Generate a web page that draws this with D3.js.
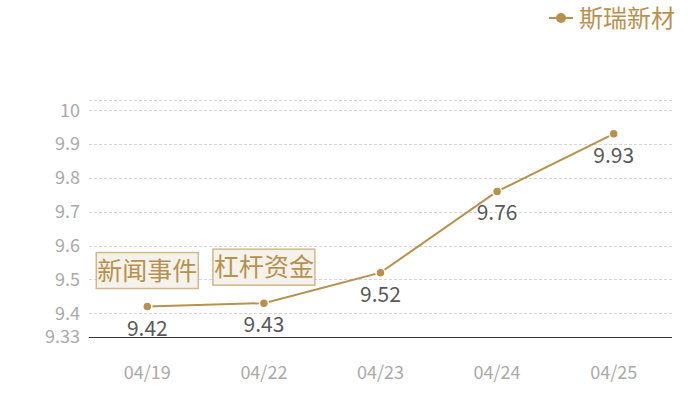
<!DOCTYPE html>
<html>
<head>
<meta charset="utf-8">
<script src="https://cdn.jsdelivr.net/npm/d3@7"></script>
<style>
  html, body { margin: 0; padding: 0; background: #fff; }
  svg { display: block; font-family: "Noto Sans CJK SC", "Noto Sans", sans-serif; }
</style>
</head>
<body>
<svg id="chart" width="700" height="400"></svg>
<script>
// data
const dates = ["04/19", "04/22", "04/23", "04/24", "04/25"];
const prices = [9.42, 9.43, 9.52, 9.76, 9.93];
const seriesName = "斯瑞新材";
const yTicks = [9.33, 9.4, 9.5, 9.6, 9.7, 9.8, 9.9, 10];
const yMin = 9.33, yMax = 10.03;
const notes = [{ date: "04/19", text: "新闻事件" }, { date: "04/22", text: "杠杆资金" }];

const gold = "#b8914f";
const svg = d3.select("#chart");
const margin = { left: 89, right: 28, top: 100, bottom: 63 };
const width = 700, height = 400;

const x = d3.scalePoint().domain(dates)
  .range([margin.left, width - margin.right]).padding(0.5);
const y = d3.scaleLinear().domain([yMin, yMax])
  .range([height - margin.bottom, margin.top]);

// grid
const gridVals = yTicks.filter(v => v > yMin).concat([yMax]);
svg.append("g").selectAll("line").data(gridVals).join("line")
  .attr("x1", margin.left).attr("x2", width - margin.right)
  .attr("y1", d => Math.round(y(d)) + 0.5).attr("y2", d => Math.round(y(d)) + 0.5)
  .attr("stroke", "#d6d6d6").attr("stroke-dasharray", "3,2").attr("stroke-width", 1);

// y labels
svg.append("g").selectAll("text").data(yTicks).join("text")
  .attr("x", 80).attr("y", d => y(d)).attr("dy", "0.36em")
  .attr("text-anchor", "end").attr("fill", "#aaa").attr("font-size", 18)
  .text(d => d);

// x axis
svg.append("line")
  .attr("x1", margin.left).attr("x2", width - margin.right)
  .attr("y1", Math.round(y(yMin)) + 0.5).attr("y2", Math.round(y(yMin)) + 0.5)
  .attr("stroke", "#333").attr("stroke-width", 1);
svg.append("g").selectAll("text").data(dates).join("text")
  .attr("x", d => x(d)).attr("y", 379)
  .attr("text-anchor", "middle").attr("fill", "#aaa").attr("font-size", 18)
  .text(d => d);

// line
const pts = dates.map((d, i) => ({ date: d, v: prices[i] }));
svg.append("path").datum(pts)
  .attr("fill", "none").attr("stroke", gold).attr("stroke-width", 2)
  .attr("d", d3.line().x(d => x(d.date)).y(d => y(d.v)));
svg.append("g").selectAll("circle").data(pts).join("circle")
  .attr("cx", d => x(d.date)).attr("cy", d => y(d.v)).attr("r", 4.5)
  .attr("fill", gold).attr("stroke", "#fff").attr("stroke-width", 1.5);
svg.append("g").selectAll("text").data(pts).join("text")
  .attr("x", d => x(d.date)).attr("y", d => y(d.v) + 29)
  .attr("text-anchor", "middle").attr("fill", "#595959").attr("font-size", 21)
  .text(d => d.v.toFixed(2));

// annotation boxes
const vOf = new Map(pts.map(p => [p.date, p.v]));
const ng = svg.append("g").selectAll("g").data(notes).join("g")
  .attr("transform", d => `translate(${x(d.date)},${y(vOf.get(d.date)) - 18})`);
ng.append("rect")
  .attr("x", -51).attr("y", -36).attr("width", 102).attr("height", 36)
  .attr("fill", "#f5f1eb").attr("stroke", "#d2b78c").attr("stroke-width", 1.5);
ng.append("text")
  .attr("x", 0).attr("y", -9).attr("text-anchor", "middle")
  .attr("fill", gold).attr("font-size", 25).text(d => d.text);

// legend
const lg = svg.append("g").attr("transform", "translate(549,18)");
lg.append("line").attr("x1", 0).attr("x2", 24).attr("stroke", gold).attr("stroke-width", 2);
lg.append("circle").attr("cx", 12).attr("r", 5).attr("fill", gold);
lg.append("text").attr("x", 30).attr("dy", "0.36em")
  .attr("fill", gold).attr("font-size", 24).text(seriesName);
</script>
</body>
</html>
